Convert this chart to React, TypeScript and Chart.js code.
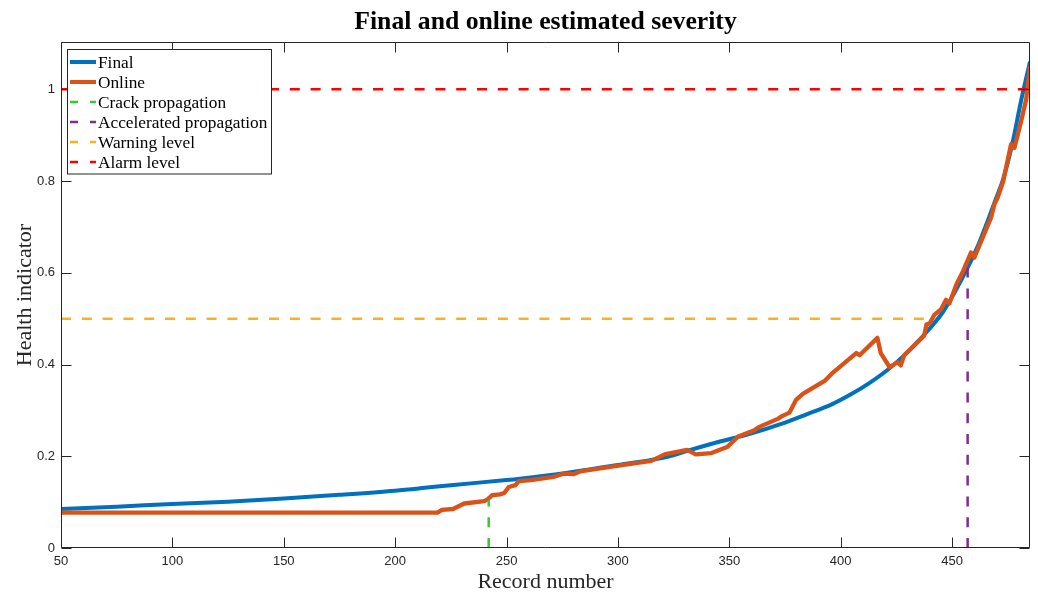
import React, { useEffect, useRef } from 'react';
import { Chart, registerables } from 'chart.js';

Chart.register(...registerables);

// ---- Data ----
const recordTicks = [50, 100, 150, 200, 250, 300, 350, 400, 450];
const healthTicks = [0, 0.2, 0.4, 0.6, 0.8, 1];

const finalRecords = [50, 75, 100, 125, 150, 175, 200, 211, 225, 250, 256, 276, 300, 315, 324, 330, 345, 360, 373, 385, 396, 405, 413, 421, 429, 436, 446, 451, 457, 462, 466, 470, 473, 477, 481, 485];
const finalValues = [0.085, 0.09, 0.096, 0.101, 0.108, 0.116, 0.125, 0.13, 0.137, 0.148, 0.151, 0.163, 0.181, 0.192, 0.201, 0.21, 0.231, 0.25, 0.27, 0.292, 0.313, 0.336, 0.36, 0.388, 0.422, 0.457, 0.515, 0.556, 0.611, 0.663, 0.713, 0.765, 0.805, 0.88, 0.975, 1.06];

const onlineRecords = [50, 219, 221, 226, 231, 240, 241.5, 243.5, 247, 249, 251, 254, 255.5, 261, 271, 275.5, 280, 283, 301, 315, 318, 321, 331, 335, 342, 349, 354, 361, 363.5, 372, 373.5, 377, 380, 383, 393, 396, 407, 408.5, 416.5, 418, 422, 425.5, 427, 428.5, 437.5, 438.5, 440, 442, 445, 447.3, 448.8, 452, 455, 458.5, 460, 467.5, 469, 470.5, 473, 476.5, 478, 481, 483.3, 485];
const onlineValues = [0.077, 0.077, 0.083, 0.085, 0.097, 0.102, 0.106, 0.115, 0.117, 0.12, 0.133, 0.137, 0.146, 0.148, 0.155, 0.162, 0.161, 0.167, 0.18, 0.19, 0.197, 0.204, 0.214, 0.204, 0.207, 0.22, 0.243, 0.256, 0.264, 0.282, 0.287, 0.295, 0.323, 0.336, 0.365, 0.38, 0.425, 0.42, 0.458, 0.425, 0.394, 0.405, 0.398, 0.42, 0.463, 0.487, 0.49, 0.508, 0.52, 0.541, 0.533, 0.575, 0.604, 0.644, 0.633, 0.72, 0.749, 0.764, 0.8, 0.88, 0.872, 0.93, 0.978, 1.05];

const crackRecord = [242, 242];
const crackValues = [0, 0.105];
const accelRecord = [457, 457];
const accelValues = [0, 0.611];
const warningRecords = [50, 440];
const warningValues = [0.5, 0.5];
const alarmRecords = [50, 485];
const alarmValues = [1, 1];

const xRange = [50, 485];
const yRange = [0, 1.103];

const titleText = 'Final and online estimated severity';
const xTitle = 'Record number';
const yTitle = 'Health indicator';

const COLORS = {
  final: '#0072BD',
  online: '#D95319',
  crack: '#33CC33',
  accel: '#7E2F8E',
  warning: '#FBB11A',
  alarm: '#FF0000',
  axis: '#262626',
};

const legendItems = [
  { label: 'Final', color: COLORS.final, dashed: false },
  { label: 'Online', color: COLORS.online, dashed: false },
  { label: 'Crack propagation', color: COLORS.crack, dashed: true },
  { label: 'Accelerated propagation', color: COLORS.accel, dashed: true },
  { label: 'Warning level', color: COLORS.warning, dashed: true },
  { label: 'Alarm level', color: COLORS.alarm, dashed: true },
];

const SERIF = "'Liberation Serif', 'Times New Roman', serif";
const SANS = "'Liberation Sans', Arial, Helvetica, sans-serif";

const pts = (xs: number[], ys: number[]) => xs.map((x, i) => ({ x, y: ys[i] }));

const framePlugin = {
  id: 'matlabFrame',
  afterDraw(chart: any) {
    const { ctx, chartArea, scales } = chart;
    const { left, right, top, bottom } = chartArea;
    ctx.save();
    ctx.strokeStyle = COLORS.axis;
    ctx.lineWidth = 1;
    const L = Math.round(left) + 0.5;
    const R = Math.round(right) - 0.5;
    const T = Math.round(top) + 0.5;
    const B = Math.round(bottom) - 0.5;
    ctx.beginPath();
    ctx.rect(L, T, R - L, B - T);
    ctx.stroke();
    const tl = 10;
    ctx.beginPath();
    recordTicks.forEach((v) => {
      const px = Math.round(scales.x.getPixelForValue(v)) + 0.5;
      ctx.moveTo(px, B);
      ctx.lineTo(px, B - tl);
      ctx.moveTo(px, T);
      ctx.lineTo(px, T + tl);
    });
    healthTicks.forEach((v) => {
      const py = Math.round(scales.y.getPixelForValue(v)) + 0.5;
      ctx.moveTo(L, py);
      ctx.lineTo(L + tl, py);
      ctx.moveTo(R, py);
      ctx.lineTo(R - tl, py);
    });
    ctx.stroke();

    // title
    ctx.fillStyle = '#000';
    ctx.font = `bold 25.7px ${SERIF}`;
    ctx.textAlign = 'center';
    ctx.textBaseline = 'middle';
    ctx.fillText(titleText, (left + right) / 2, 22);

    // legend
    const bx = 67.5, by = 49.5, bw = 204, bh = 124.5;
    ctx.fillStyle = '#fff';
    ctx.fillRect(bx, by, bw, bh);
    ctx.strokeStyle = COLORS.axis;
    ctx.lineWidth = 1;
    ctx.strokeRect(bx, by, bw, bh);
    ctx.font = `17.3px ${SERIF}`;
    ctx.textAlign = 'left';
    ctx.textBaseline = 'middle';
    legendItems.forEach((it, i) => {
      const y = 62 + i * 20;
      ctx.save();
      ctx.strokeStyle = it.color;
      ctx.lineWidth = it.dashed ? 2.5 : 4;
      ctx.setLineDash(it.dashed ? [8, 12] : []);
      ctx.beginPath();
      ctx.moveTo(70, y);
      ctx.lineTo(96, y);
      ctx.stroke();
      ctx.restore();
      ctx.fillStyle = '#000';
      ctx.fillText(it.label, 98, y + 1);
    });
    ctx.restore();
  },
};

export default function App() {
  const ref = useRef<HTMLCanvasElement | null>(null);

  useEffect(() => {
    if (!ref.current) return;
    const dash = [10, 10.8];
    const chart = new Chart(ref.current, {
      type: 'line',
      data: {
        datasets: [
          {
            label: 'Final',
            data: pts(finalRecords, finalValues),
            borderColor: COLORS.final,
            borderWidth: 4,
            pointRadius: 0,
            cubicInterpolationMode: 'monotone',
            order: 3,
          },
          {
            label: 'Online',
            data: pts(onlineRecords, onlineValues),
            borderColor: COLORS.online,
            borderWidth: 4.3,
            pointRadius: 0,
            tension: 0,
            borderJoinStyle: 'round',
            order: 2,
          },
          {
            label: 'Crack propagation',
            data: pts(crackRecord, crackValues),
            borderColor: COLORS.crack,
            borderWidth: 2.5,
            borderDash: dash,
            pointRadius: 0,
            order: 1,
          },
          {
            label: 'Accelerated propagation',
            data: pts(accelRecord, accelValues),
            borderColor: COLORS.accel,
            borderWidth: 2.5,
            borderDash: dash,
            pointRadius: 0,
            order: 1,
          },
          {
            label: 'Warning level',
            data: pts(warningRecords, warningValues),
            borderColor: COLORS.warning,
            borderWidth: 2.5,
            borderDash: dash,
            pointRadius: 0,
            order: 1,
          },
          {
            label: 'Alarm level',
            data: pts(alarmRecords, alarmValues),
            borderColor: COLORS.alarm,
            borderWidth: 2.5,
            borderDash: dash,
            pointRadius: 0,
            order: 1,
          },
        ] as any,
      },
      options: {
        responsive: false,
        animation: false,
        devicePixelRatio: 1,
        layout: { padding: { left: 0, right: 8, top: 42, bottom: 0 } },
        plugins: {
          legend: { display: false },
          title: { display: false },
          tooltip: { enabled: false },
        },
        scales: {
          x: {
            type: 'linear',
            min: xRange[0],
            max: xRange[1],
            grid: { display: false, drawTicks: false },
            border: { display: false },
            afterBuildTicks: (scale: any) => {
              scale.ticks = recordTicks.map((v) => ({ value: v }));
            },
            afterFit: (scale: any) => {
              scale.height = 44;
            },
            ticks: {
              padding: 6,
              color: COLORS.axis,
              font: { family: SANS, size: 13 },
              maxRotation: 0,
              callback: (v: any) => String(v),
            },
            title: {
              display: true,
              text: xTitle,
              color: COLORS.axis,
              font: { family: SERIF, size: 22, lineHeight: 1 },
              padding: { top: 0, bottom: -1 },
            },
          },
          y: {
            type: 'linear',
            min: yRange[0],
            max: yRange[1],
            grid: { display: false, drawTicks: false },
            border: { display: false },
            afterBuildTicks: (scale: any) => {
              scale.ticks = healthTicks.map((v) => ({ value: v }));
            },
            afterFit: (scale: any) => {
              scale.width = 61;
            },
            ticks: {
              padding: 6,
              color: COLORS.axis,
              font: { family: SANS, size: 13 },
              callback: (v: any) => String(v),
            },
            title: {
              display: true,
              text: yTitle,
              color: COLORS.axis,
              font: { family: SERIF, size: 22, lineHeight: 1 },
              padding: { top: 14, bottom: 0 },
            },
          },
        },
      } as any,
      plugins: [framePlugin],
    });
    return () => chart.destroy();
  }, []);

  return (
    <div style={{ position: 'fixed', left: 0, top: 0, width: 1038, height: 592, background: '#fff' }}>
      <canvas ref={ref} width={1038} height={592} style={{ width: 1038, height: 592, display: 'block' }} />
    </div>
  );
}
